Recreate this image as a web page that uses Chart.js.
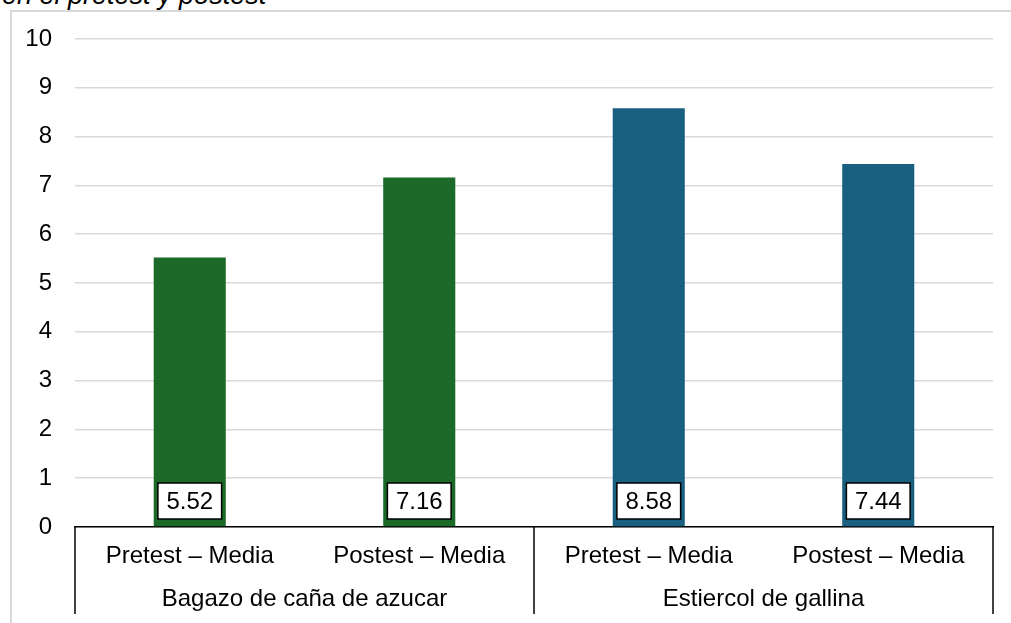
<!DOCTYPE html>
<html>
<head>
<meta charset="utf-8">
<script src="https://cdn.jsdelivr.net/npm/chart.js@4"></script>
<style>
  html, body { margin: 0; padding: 0; background: #fff; overflow: hidden; }
  #wrap { position: relative; width: 1011px; height: 623px; }
  #frame { position: absolute; left: 10px; top: 10px; width: 1020px; height: 640px; border: 2px solid #d9d9d9; box-sizing: border-box; }
  #title { position: absolute; left: 2px; top: -18px; font: italic 27px Arial, "Liberation Sans", sans-serif; line-height: 27px; color: #000; white-space: nowrap; }
  #chart { position: absolute; left: 0; top: 0; }
</style>
</head>
<body>
<div id="wrap">
  <div id="frame"></div>
  <div id="title">en el pretest y postest</div>
  <canvas id="chart" width="1011" height="623"></canvas>
</div>
<script>
const categories = ['Pretest – Media', 'Postest – Media', 'Pretest – Media', 'Postest – Media'];
const groups = ['Bagazo de caña de azucar', 'Estiercol de gallina'];
const values = [5.52, 7.16, 8.58, 7.44];
const barColors = ['#1b6a27', '#1b6a27', '#185f80', '#185f80'];
const yTicks = [0, 1, 2, 3, 4, 5, 6, 7, 8, 9, 10];

const font = 'Arial, "Liberation Sans", sans-serif';

// white boxed value at the foot of each bar
const valueBoxes = {
  id: 'valueBoxes',
  afterDatasetsDraw(chart) {
    const ctx = chart.ctx;
    const base = chart.scales.y.getPixelForValue(0);
    ctx.save();
    ctx.font = '24px ' + font;
    chart.getDatasetMeta(0).data.forEach((bar, i) => {
      const txt = values[i].toFixed(2);
      const w = ctx.measureText(txt).width + 17;
      const h = 36;
      const cy = base - 26;
      ctx.fillStyle = '#fff';
      ctx.fillRect(bar.x - w / 2, cy - h / 2, w, h);
      ctx.strokeStyle = '#000';
      ctx.lineWidth = 1.5;
      ctx.strokeRect(bar.x - w / 2, cy - h / 2, w, h);
      ctx.fillStyle = '#000';
      ctx.textAlign = 'center';
      ctx.textBaseline = 'middle';
      ctx.fillText(txt, bar.x, cy + 1);
    });
    ctx.restore();
  }
};

// group separators of the two-level category axis
const groupLines = {
  id: 'groupLines',
  afterDraw(chart) {
    const ctx = chart.ctx;
    const x = chart.scales.x;
    const top = chart.chartArea.bottom;
    const mid = (x.getPixelForValue(1) + x.getPixelForValue(2)) / 2;
    ctx.save();
    ctx.strokeStyle = '#000';
    ctx.lineWidth = 1.5;
    [chart.chartArea.left, mid, chart.chartArea.right].forEach(px => {
      ctx.beginPath();
      ctx.moveTo(px, top);
      ctx.lineTo(px, 614);
      ctx.stroke();
    });
    ctx.restore();
  }
};

new Chart(document.getElementById('chart'), {
  type: 'bar',
  data: {
    labels: categories,
    datasets: [{
      data: values,
      backgroundColor: barColors,
      borderWidth: 0,
      barPercentage: 0.314,
      categoryPercentage: 1
    }]
  },
  options: {
    responsive: false,
    animation: false,
    layout: { padding: { left: 0, right: 18, top: 39, bottom: 0 } },
    plugins: {
      legend: { display: false },
      tooltip: { enabled: false }
    },
    scales: {
      y: {
        min: 0,
        max: 10,
        afterBuildTicks: (s) => { s.ticks = yTicks.map(v => ({ value: v })); },
        afterFit: (s) => { s.width = 75; },
        ticks: { font: { size: 24, family: font }, color: '#000', padding: 23 },
        grid: { color: '#d9d9d9', lineWidth: 1.5, drawTicks: false },
        border: { display: false }
      },
      x: {
        afterFit: (s) => { s.height = 48; },
        ticks: { font: { size: 24, family: font }, color: '#000', padding: 15, maxRotation: 0, autoSkip: false },
        grid: { display: false, drawTicks: false },
        border: { color: '#000', width: 1.5 }
      },
      x2: {
        type: 'category',
        position: 'bottom',
        labels: groups,
        offset: true,
        afterFit: (s) => { s.height = 48; },
        ticks: { font: { size: 24, family: font }, color: '#000', padding: 10, maxRotation: 0, autoSkip: false },
        grid: { display: false, drawTicks: false },
        border: { display: false }
      }
    }
  },
  plugins: [valueBoxes, groupLines]
});
</script>
</body>
</html>
